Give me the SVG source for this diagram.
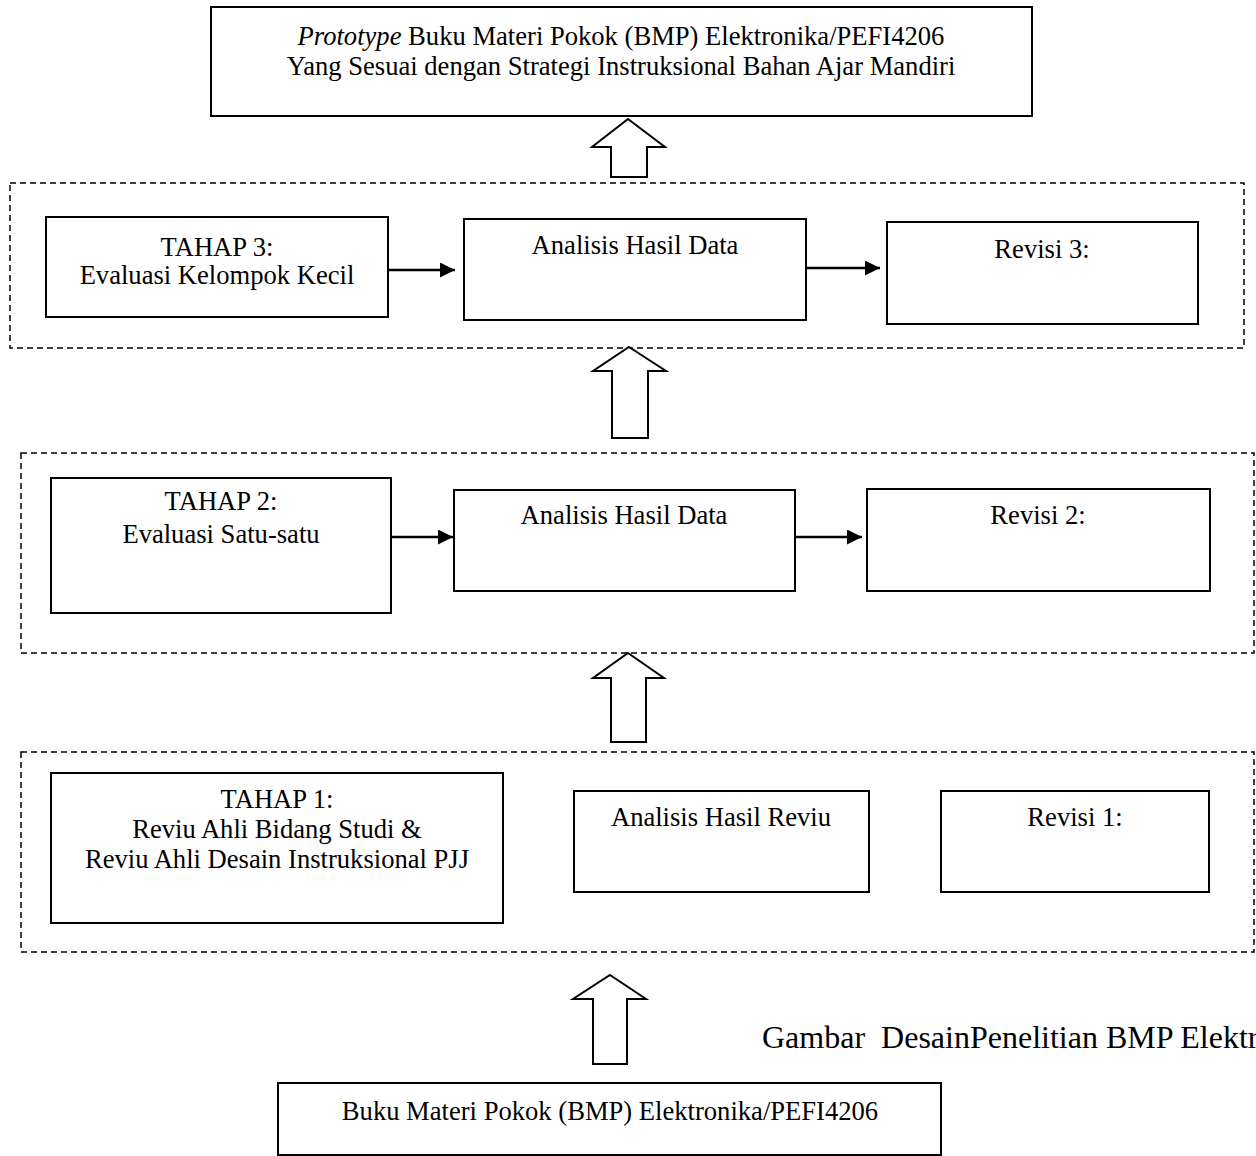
<svg xmlns="http://www.w3.org/2000/svg" width="1256" height="1156" viewBox="0 0 1256 1156">
  <style>
    .box { fill: #ffffff; stroke: #000000; stroke-width: 2; }
    .stage { fill: none; stroke: #000000; stroke-width: 1.5; stroke-dasharray: 6 4; }
    .block { fill: #ffffff; stroke: #000000; stroke-width: 2; stroke-linejoin: miter; }
    .link { stroke: #000000; stroke-width: 2.5; fill: none; marker-end: url(#head); }
    text { font-family: "Liberation Serif", "Times New Roman", serif; font-size: 26.6px; fill: #000000; text-anchor: middle; }
    .caption { font-size: 32px; text-anchor: start; white-space: pre; }
  </style>
  <defs>
    <marker id="head" viewBox="0 0 10 10" refX="10" refY="5" markerWidth="6" markerHeight="6" markerUnits="strokeWidth" orient="auto">
      <path d="M0,0 L10,5 L0,10 z" fill="#000000"/>
    </marker>
  </defs>
  <rect width="1256" height="1156" fill="#ffffff"/>

  <!-- stage frames -->
  <g id="stages">
    <rect class="stage" x="10" y="183" width="1234" height="165"/>
    <rect class="stage" x="21" y="453" width="1233" height="200"/>
    <rect class="stage" x="21" y="752" width="1233" height="200"/>
  </g>

  <!-- final product -->
  <g id="prototype">
    <rect class="box" x="211" y="7" width="821" height="109"/>
    <text x="621" y="45"><tspan font-style="italic">Prototype</tspan> Buku Materi Pokok (BMP) Elektronika/PEFI4206</text>
    <text x="621" y="75">Yang Sesuai dengan Strategi Instruksional Bahan Ajar Mandiri</text>
  </g>

  <!-- stage 3 -->
  <g id="tahap3">
    <rect class="box" x="46" y="217" width="342" height="100"/>
    <text x="217" y="256">TAHAP 3:</text>
    <text x="217" y="284">Evaluasi Kelompok Kecil</text>
  </g>
  <g id="analisis3">
    <rect class="box" x="464" y="219" width="342" height="101"/>
    <text x="635" y="254">Analisis Hasil Data</text>
  </g>
  <g id="revisi3">
    <rect class="box" x="887" y="222" width="311" height="102"/>
    <text x="1042" y="258">Revisi 3:</text>
  </g>

  <!-- stage 2 -->
  <g id="tahap2">
    <rect class="box" x="51" y="478" width="340" height="135"/>
    <text x="221" y="510">TAHAP 2:</text>
    <text x="221" y="543">Evaluasi Satu-satu</text>
  </g>
  <g id="analisis2">
    <rect class="box" x="454" y="490" width="341" height="101"/>
    <text x="624" y="524">Analisis Hasil Data</text>
  </g>
  <g id="revisi2">
    <rect class="box" x="867" y="489" width="343" height="102"/>
    <text x="1038" y="524">Revisi 2:</text>
  </g>

  <!-- stage 1 -->
  <g id="tahap1">
    <rect class="box" x="51" y="773" width="452" height="150"/>
    <text x="277" y="808">TAHAP 1:</text>
    <text x="277" y="838">Reviu Ahli Bidang Studi &amp;</text>
    <text x="277" y="868">Reviu Ahli Desain Instruksional PJJ</text>
  </g>
  <g id="analisis1">
    <rect class="box" x="574" y="791" width="295" height="101"/>
    <text x="721" y="826">Analisis Hasil Reviu</text>
  </g>
  <g id="revisi1">
    <rect class="box" x="941" y="791" width="268" height="101"/>
    <text x="1075" y="826">Revisi 1:</text>
  </g>

  <!-- source material -->
  <g id="bmp">
    <rect class="box" x="278" y="1083" width="663" height="72"/>
    <text x="610" y="1120">Buku Materi Pokok (BMP) Elektronika/PEFI4206</text>
  </g>

  <!-- figure caption, runs past the right edge -->
  <text class="caption" x="762" y="1048" xml:space="preserve">Gambar  DesainPenelitian BMP Elektronika</text>

  <!-- connectors -->
  <g id="connectors">
    <line class="link" x1="388" y1="270" x2="455" y2="270"/>
    <line class="link" x1="807" y1="268" x2="880" y2="268"/>
    <line class="link" x1="391" y1="537" x2="453" y2="537"/>
    <line class="link" x1="795" y1="537" x2="862" y2="537"/>
    <polygon class="block" points="628,119 665,147 647,147 647,177 611,177 611,147 592,147"/>
    <polygon class="block" points="629,347 666,371 648,371 648,438 612,438 612,371 593,371"/>
    <polygon class="block" points="628,653 664,678 646,678 646,742 611,742 611,678 593,678"/>
    <polygon class="block" points="610,975 646,999 627,999 627,1064 593,1064 593,999 573,999"/>
  </g>
</svg>
